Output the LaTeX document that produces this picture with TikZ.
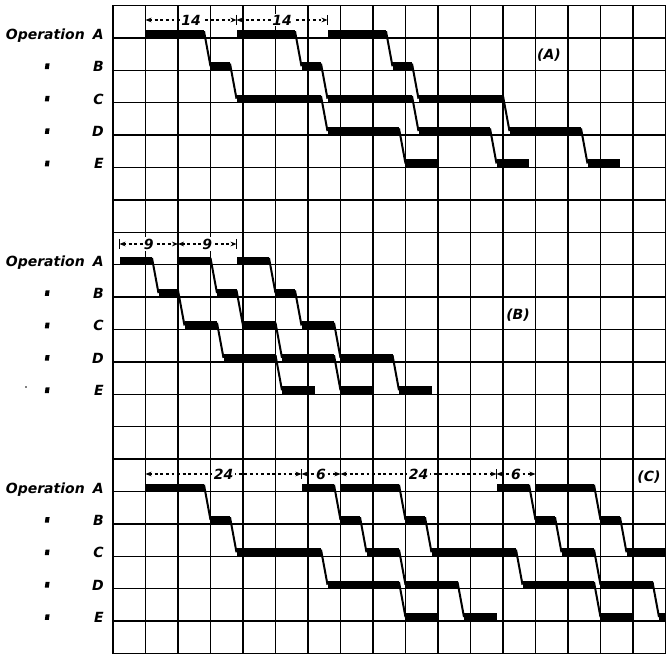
\documentclass[tikz,border=0pt]{standalone}
\usepackage{fontspec}
\setmainfont{DejaVu Sans}
\usetikzlibrary{arrows.meta}
\newcommand\opbars[3]{%
  \foreach \a/\b [count=\k from 0] in {#3} {
    \fill ([yshift=6pt]#2+\a,#1+\k) rectangle ([yshift=-0.4pt]#2+\b,#1+\k);
  }}
\newcommand\opslants[3]{%
  \foreach \a/\b [count=\k from 0] in {#3} {
    \draw[slant] ([yshift=5pt]#2+\a,#1+\k) -- ([yshift=3pt]#2+\b,#1+\k+1);
  }}
\newcommand\typeone[2]{%
  \opbars{#1}{#2}{0/9,10/13,14/27,28/39,40/45}%
  \opslants{#1}{#2}{9/10,13/14,27/28,39/40}}
\newcommand\typetwo[2]{%
  \opbars{#1}{#2}{0/5,6/9,10/15,16/24,25/30}%
  \opslants{#1}{#2}{5/6,9/10,15/16,24/25}}
\newcommand\dimseg[5]{% name, x1, x2, y, label
  \draw[dimline] (#2,#4) -- node[dimnum] (#1) {#5} (#3,#4);
  \draw[dimtick] (#2,#4-5) -- (#2,#4+5);
  \draw[dimtick] (#3,#4-5) -- (#3,#4+5);}
\begin{document}
\begin{tikzpicture}[x=0.75pt,y=-0.75pt,
  gridline/.style={line width=1.1pt},
  slant/.style={line width=1.5pt},
  lbl/.style={font=\fontsize{10.5}{13}\selectfont\bfseries\itshape, inner sep=0pt},
  dimline/.style={line width=0.8pt, dash pattern=on 2.2pt off 2pt,
     {Stealth[length=4.5pt,width=3.5pt]}-{Stealth[length=4.5pt,width=3.5pt]}},
  dimtick/.style={line width=0.9pt},
  dimnum/.style={font=\fontsize{10.5}{13}\selectfont\bfseries\itshape, fill=white, inner sep=1pt},
  secl/.style={font=\fontsize{10.5}{13}\selectfont\bfseries\itshape, inner sep=0pt},
]
\useasboundingbox (0,0) rectangle (667,655);
\fill[white] (0,0) rectangle (667,655);

\begin{scope}[shift={(113,5.5)}, x=4.875pt, y=-24.3pt]
  \foreach \i in {0,...,17} \draw[gridline] (5*\i,0) -- (5*\i,20);
  \foreach \j in {0,...,20} \draw[gridline] (0,\j) -- (85,\j);
  \begin{scope}
    \clip (0,-1) rectangle (85,20);
    % (A)
    \typeone{1}{5}\typeone{1}{19}\typeone{1}{33}
    % (B)
    \typetwo{8}{1}\typetwo{8}{10}\typetwo{8}{19}
    % (C)
    \typeone{15}{5}\typetwo{15}{29}\typeone{15}{35}\typetwo{15}{59}\typeone{15}{65}
  \end{scope}
\end{scope}

% row labels
\foreach \j/\l in {1/A,2/B,3/C,4/D,5/E,8/A,9/B,10/C,11/D,12/E,15/A,16/B,17/C,18/D,19/E}
  \node[lbl, anchor=base east] (let\j) at (104, 5.5+32.4*\j+1.5) {\l};
\foreach \j in {1,8,15}
  \node[lbl, anchor=base east] (op\j) at (85, 5.5+32.4*\j+1.5) {Operation};
\foreach \j in {2,3,4,5,9,10,11,12,16,17,18,19}
  \fill[shift={(47,{5.5+32.4*\j-4})}] (-2.2,2.8) -- (1.8,2.8) -- (2.6,-2.8) -- (-1.4,-2.8) -- cycle;
\fill (26,387) circle (0.9);

% section labels
\node[secl] (secA) at (549,55) {(A)};
\node[secl] (secB) at (518,315) {(B)};
\node[secl] (secC) at (649,477) {(C)};

% dimensions
\dimseg{dA1}{145.5}{236.5}{20}{14}
\dimseg{dA2}{236.5}{327.5}{20}{14}
\dimseg{dB1}{119.5}{178}{244}{9}
\dimseg{dB2}{178}{236.5}{244}{9}
\dimseg{dC1}{145.5}{301.5}{474}{24}
\dimseg{dC2}{301.5}{340.5}{474}{6}
\dimseg{dC3}{340.5}{496.5}{474}{24}
\dimseg{dC4}{496.5}{535.5}{474}{6}
\end{tikzpicture}
\end{document}
